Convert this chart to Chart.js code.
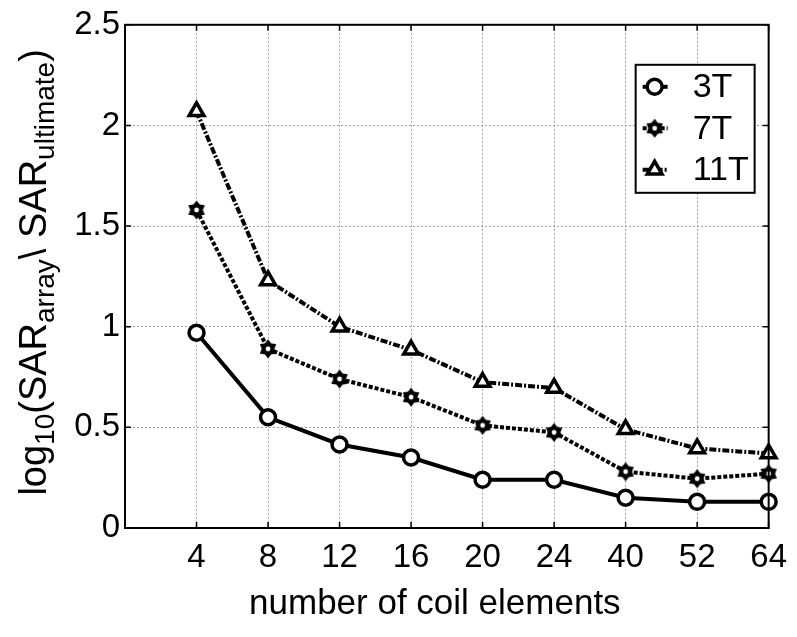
<!DOCTYPE html>
<html>
<head>
<meta charset="utf-8">
<script src="https://cdn.jsdelivr.net/npm/chart.js@4/dist/chart.umd.min.js"></script>
<style>
    body { margin: 0; background: #fff; }
</style>
</head>
<body>
<canvas id="chart" width="797" height="637"></canvas>
<script>
// number of coil elements (equally spaced on the axis)
const coilLabels = ['4', '8', '12', '16', '20', '24', '40', '52', '64'];
// log10(SAR_array \ SAR_ultimate)
const sar3T = [0.97, 0.55, 0.415, 0.35, 0.24, 0.24, 0.15, 0.13, 0.13];
const sar7T = [1.58, 0.89, 0.74, 0.65, 0.51, 0.475, 0.28, 0.245, 0.27];
const sar11T = [2.07, 1.23, 1.0, 0.885, 0.725, 0.695, 0.49, 0.395, 0.37];
const seriesNames = ['3T', '7T', '11T'];

const FONT = "'Liberation Sans', Arial, sans-serif";

function toPoints(values) {
    let pts = [];
    for (let i = 0; i < values.length; i++) {
        pts.push({x: i + 1, y: values[i]});
    }
    return pts;
}

// six pointed "gear" marker used for 7T
function makeStar() {
    const c = document.createElement('canvas');
    c.width = 20;
    c.height = 20;
    const g = c.getContext('2d');
    g.beginPath();
    for (let i = 0; i < 12; i++) {
        const r = i % 2 === 0 ? 9.5 : 6.3;
        const a = -Math.PI / 2 + i * Math.PI / 6;
        g.lineTo(10 + r * Math.cos(a), 10 + r * Math.sin(a));
    }
    g.closePath();
    g.fillStyle = '#000';
    g.fill();
    g.beginPath();
    g.arc(10, 10, 2.4, 0, Math.PI * 2);
    g.fillStyle = '#fff';
    g.fill();
    return c;
}
const starMarker = makeStar();

const dashes = [[], [4, 2], [7, 2, 2, 2]];

function drawMarker(ctx, idx, x, y) {
    ctx.save();
    ctx.setLineDash([]);
    ctx.strokeStyle = '#000';
    ctx.fillStyle = '#fff';
    ctx.lineWidth = 3.5;
    if (idx === 0) {
        ctx.beginPath();
        ctx.arc(x, y, 7.5, 0, Math.PI * 2);
        ctx.fill();
        ctx.stroke();
    } else if (idx === 1) {
        ctx.drawImage(starMarker, x - 10, y - 10);
    } else {
        const r = 8.5;
        ctx.beginPath();
        for (let k = 0; k < 3; k++) {
            const a = -Math.PI / 2 + k * 2 * Math.PI / 3;
            ctx.lineTo(x + r * Math.cos(a), y + r * Math.sin(a));
        }
        ctx.closePath();
        ctx.fill();
        ctx.stroke();
    }
    ctx.restore();
}

const framePlugin = {
    id: 'frame',
    afterDraw(chart) {
        const ctx = chart.ctx;
        const a = chart.chartArea;
        const xs = chart.scales.x;
        const ys = chart.scales.y;
        ctx.save();

        // inner tick marks on all four sides
        ctx.strokeStyle = '#000';
        ctx.lineWidth = 1.5;
        ctx.beginPath();
        for (let i = 1; i <= coilLabels.length; i++) {
            const px = xs.getPixelForValue(i);
            ctx.moveTo(px, a.top); ctx.lineTo(px, a.top + 6);
            ctx.moveTo(px, a.bottom); ctx.lineTo(px, a.bottom - 6);
        }
        for (let v = 0; v <= 2.5; v += 0.5) {
            const py = ys.getPixelForValue(v);
            ctx.moveTo(a.left, py); ctx.lineTo(a.left + 6, py);
            ctx.moveTo(a.right, py); ctx.lineTo(a.right - 6, py);
        }
        ctx.stroke();

        // axes box
        ctx.lineWidth = 2;
        ctx.strokeRect(a.left, a.top, a.right - a.left, a.bottom - a.top);

        // legend box
        const lx = a.right - 133, ly = a.top + 40, lw = 119, lh = 128;
        ctx.fillStyle = '#fff';
        ctx.fillRect(lx, ly, lw, lh);
        ctx.strokeRect(lx, ly, lw, lh);
        ctx.font = '34px ' + FONT;
        ctx.textBaseline = 'middle';
        ctx.textAlign = 'left';
        for (let i = 0; i < seriesNames.length; i++) {
            const cy = ly + 22 + i * 41.5;
            const cx = lx + 19;
            ctx.setLineDash(dashes[i]);
            ctx.lineWidth = 4;
            ctx.beginPath();
            ctx.moveTo(cx - 12, cy);
            ctx.lineTo(cx + 13, cy);
            ctx.stroke();
            drawMarker(ctx, i, cx, cy);
            ctx.fillStyle = '#000';
            ctx.fillText(seriesNames[i], lx + 57, cy + 1);
        }
        ctx.setLineDash([]);

        // x title
        ctx.font = '35px ' + FONT;
        ctx.textAlign = 'center';
        ctx.textBaseline = 'alphabetic';
        ctx.fillText('number of coil elements', (a.left + a.right) / 2 - 12, 614);

        // y title with subscripts, rotated
        const parts = [
            ['log', 38, 0], ['10', 28, 8], ['(SAR', 38, 0], ['array', 28, 8],
            ['\\ SAR', 38, 0], ['ultimate', 28, 8], [')', 38, 0]
        ];
        let total = 0;
        parts.forEach(p => {
            ctx.font = p[1] + 'px ' + FONT;
            total += ctx.measureText(p[0]).width;
        });
        const centerY = (a.top + a.bottom) / 2 - 4;
        ctx.translate(46, centerY + total / 2);
        ctx.rotate(-Math.PI / 2);
        ctx.textAlign = 'left';
        let pos = 0;
        parts.forEach(p => {
            ctx.font = p[1] + 'px ' + FONT;
            ctx.fillText(p[0], pos, p[2]);
            pos += ctx.measureText(p[0]).width;
        });
        ctx.restore();
    }
};

const allSeries = [sar3T, sar7T, sar11T];
const datasets = [];
for (let i = 0; i < allSeries.length; i++) {
    datasets.push({
        label: seriesNames[i],
        data: toPoints(allSeries[i]),
        borderColor: '#000',
        borderWidth: 4,
        borderDash: dashes[i],
        pointStyle: [ 'circle', starMarker, 'triangle' ][i],
        pointRadius: i === 2 ? 8.5 : 7.5,
        pointBorderWidth: 3.5,
        pointBackgroundColor: '#fff',
        pointBorderColor: '#000',
        clip: false,
        tension: 0
    });
}

const myChart = new Chart(document.getElementById('chart'), {
    type: 'line',
    data: { datasets: datasets },
    options: {
        responsive: false,
        animation: false,
        layout: { padding: { top: 22, right: 23, left: 0, bottom: 0 } },
        plugins: { legend: { display: false }, tooltip: { enabled: false } },
        scales: {
            x: {
                type: 'linear',
                min: 0,
                max: coilLabels.length,
                border: { display: false, dash: [2, 2] },
                grid: { color: '#a0a0a0', lineWidth: 1, drawTicks: false },
                ticks: {
                    stepSize: 1,
                    padding: 10,
                    color: '#000',
                    font: { family: FONT, size: 33 },
                    maxRotation: 0,
                    autoSkip: false,
                    callback: v => (v >= 1 && v <= coilLabels.length) ? coilLabels[v - 1] : ''
                },
                afterFit: s => { s.height = 109; }
            },
            y: {
                min: 0,
                max: 2.5,
                border: { display: false, dash: [2, 2] },
                grid: { color: '#a0a0a0', lineWidth: 1, drawTicks: false },
                ticks: {
                    stepSize: 0.5,
                    padding: 5,
                    color: '#000',
                    font: { family: FONT, size: 33 },
                    callback: v => String(Math.round(v * 10) / 10)
                },
                afterFit: s => { s.width = 125; }
            }
        }
    },
    plugins: [framePlugin]
});
</script>
</body>
</html>
